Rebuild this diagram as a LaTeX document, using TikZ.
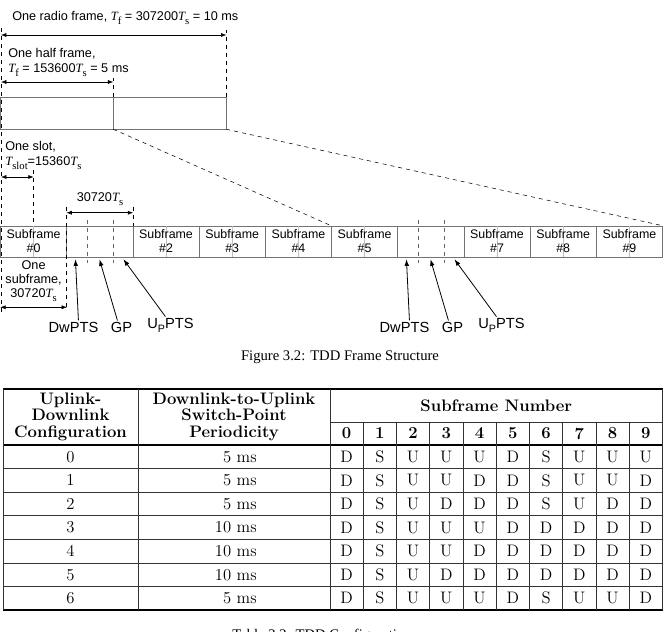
\documentclass[tikz,border=0pt]{standalone}
\usepackage{fontspec}
\setsansfont{Liberation Sans}
\newfontfamily\tms{Liberation Serif}
\usetikzlibrary{arrows.meta,positioning,calc}
\newcommand{\Tv}[1]{{\tms\itshape T}\raisebox{-0.5ex}{\tms\footnotesize #1}}
\newcommand{\Upts}{U\raisebox{-0.5ex}{\footnotesize P}PTS}

\begin{document}
\begin{tikzpicture}[
    x=0.75pt, y=-0.75pt,
    font=\sffamily\fontsize{9.5}{11.3}\selectfont,
    sfbox/.style={draw=black!55, minimum width=49.65pt, minimum height=23.25pt, inner sep=0pt, align=center, font=\sffamily\fontsize{9.3}{10.5}\selectfont},
    hfbox/.style={draw=black!55, minimum width=84.4pt, minimum height=24pt, inner sep=0pt},
    dim/.style={{Latex[length=4pt,width=3pt]}-{Latex[length=4pt,width=3pt]}, thin},
    guide/.style={dashed, thin},
    slotline/.style={black!25, thin},
    pil/.style={-{Latex[length=5pt,width=3.5pt]}, semithick},
    pname/.style={font=\sffamily\fontsize{11}{12}\selectfont, inner sep=1pt},
    lbl/.style={align=left, inner sep=0pt, anchor=west},
    captxt/.style={font=\tms\fontsize{11}{13}\selectfont},
    thickrule/.style={line width=1.4pt},
    thinrule/.style={line width=0.5pt, black!80},
    hd/.style={font=\bfseries\fontsize{12.5}{12.4}\selectfont, align=center, inner sep=0pt},
    cell/.style={font=\fontsize{12.5}{14}\selectfont, inner sep=0pt}
  ]
  \clip (0,0) rectangle (663,631);

  % radio frame and its two halves
  \node[hfbox] (hf1) at (56.75,113) {};
  \node[hfbox, right=0pt of hf1] (hf2) {};
  \node[lbl] (rft) at (12,18) {One radio frame, \Tv{f} = 307200\Tv{s} = 10 ms};
  \node[lbl] (hft) at (8,62.5) {One half frame,\\\Tv{f} = 153600\Tv{s} = 5 ms};
  \coordinate (rfL) at (1,35);
  \coordinate (hfL) at (1,82);
  \draw[dim] (rfL) -- (hf2.north east |- rfL);
  \draw[dim] (hfL) -- (hf1.north east |- hfL);
  \draw[guide] (1,28) -- (1,315);
  \draw[guide] (hf2.north east) -- ++(0,-67);
  \draw[guide] (hf1.north east) -- ++(0,-19);

  % subframes
  \foreach \i in {0,...,9}
    \node[sfbox] (s\i) at ({66.2*\i+33.6},241.5) {};
  \foreach \i in {0,2,3,4,5,7,8,9} {
    \draw[slotline] (s\i.north) -- (s\i.south);
    \node[sfbox, draw=none] at (s\i) {Subframe\\\#\i};
  }
  \foreach \i in {1,6} {
    \draw[guide, black!60] ($(s\i.north west)+(20.5,-6)$) -- ($(s\i.south west)+(20.5,6)$);
    \draw[guide, black!60] ($(s\i.north west)+(46.5,-6)$) -- ($(s\i.south west)+(46.5,6)$);
    \node[pname] (dw\i) at ($(s\i.south west)+(7,70)$) {DwPTS};
    \node[pname] (gp\i) at ($(s\i.south west)+(55,70)$) {GP};
    \node[pname] (up\i) at ($(s\i.south west)+(104,68)$) {\Upts};
    \draw[pil] ($(dw\i.north)+(5,0)$) -- ($(s\i.south west)+(9,2)$);
    \draw[pil] ($(gp\i.north)+(-4,0)$) -- ($(s\i.south west)+(33,2)$);
    \draw[pil] ($(up\i.north)+(-5,0)$) -- ($(s\i.south west)+(57,2)$);
  }
  \draw[guide] (hf2.south west) -- (s5.north west);
  \draw[guide] (hf2.south east) -- (s9.north east);

  % slot and subframe lengths
  \node[lbl] (slt) at (5,155.5) {One slot,\\\Tv{slot}=15360\Tv{s}};
  \coordinate (slL) at (1,177);
  \coordinate (slR) at (s0.north |- slL);
  \draw[dim] (slL) -- (slR);
  \draw[guide] (slR) ++(0,-7) -- (s0.north);
  \node (sft) at (100,199) {30720\Tv{s}};
  \draw[dim] ($(s1.north west)+(0,-13)$) -- ($(s1.north east)+(0,-13)$);
  \draw[guide] ($(s1.north west)+(0,-19)$) -- ++(0,103);
  \draw[guide] ($(s1.north east)+(0,-19)$) -- (s1.north east);
  \node[align=center, inner sep=0pt, font=\sffamily\fontsize{9.5}{10.5}\selectfont] (one) at (33.6,281) {One\\subframe,\\30720\Tv{s}};
  \draw[dim] ($(s0.south west)+(0,50)$) -- ($(s0.south east)+(0,50)$);

  \node[captxt] (fig) at (340,357) {Figure 3.2: TDD Frame Structure};

  % table
  \draw[thickrule] (3,389) -- (663,389);
  \draw[thickrule] (3,445) -- (663,445);
  \draw[thickrule] (3,610) -- (663,610);
  \draw[thinrule] (330,422) -- (663,422);
  \foreach \x in {3,138,330,662.5} \draw[thinrule] (\x,389) -- (\x,610);
  \foreach \k in {1,...,9} \draw[thinrule] ({330+33.25*\k},422) -- ({330+33.25*\k},610);
  \foreach \k in {1,...,6} \draw[thinrule] (3,{445+23.57*\k}) -- (663,{445+23.57*\k});
  \node[hd] (hcfg) at (70.5,416.5) {Uplink-\\Downlink\\Configuration};
  \node[hd] (hper) at (234,416.5) {Downlink-to-Uplink\\Switch-Point\\Periodicity};
  \node[hd] (hsub) at (496.25,406) {Subframe Number};
  \foreach \k in {0,...,9} \node[hd] (n\k) at ({346.6+33.25*\k},433.5) {\k};
  \foreach \p/\row [count=\r from 0] in {5/{D,S,U,U,U,D,S,U,U,U}, 5/{D,S,U,U,D,D,S,U,U,D},
      5/{D,S,U,D,D,D,S,U,D,D}, 10/{D,S,U,U,U,D,D,D,D,D}, 10/{D,S,U,U,D,D,D,D,D,D},
      10/{D,S,U,D,D,D,D,D,D,D}, 5/{D,S,U,U,U,D,S,U,U,D}} {
    \node[cell] (cfg\r) at (70.5,{445+23.57*(\r+0.5)}) {\r};
    \node[cell, anchor=east] (per\r) at (257,{445+23.57*(\r+0.5)}) {\p\ ms};
    \foreach \v [count=\c from 0] in \row
      \node[cell] (d\r-\c) at ({346.6+33.25*\c},{445+23.57*(\r+0.5)}) {\v};
  }
  \node[captxt] (tab) at (322,636) {Table 3.2: TDD Configuration};
\end{tikzpicture}
\end{document}
